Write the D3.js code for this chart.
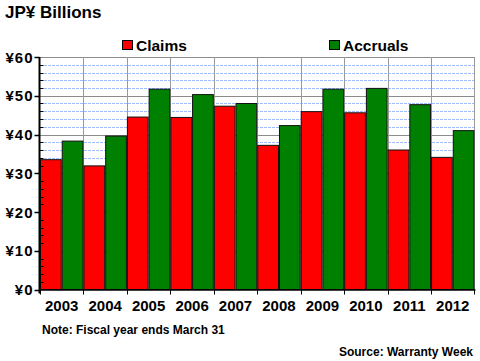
<!DOCTYPE html>
<html>
<head>
<meta charset="utf-8">
<script src="https://cdn.jsdelivr.net/npm/d3@7"></script>
<style>
    body { margin: 0; background: #fff; }
    text { font-family: Arial, "Liberation Sans", sans-serif; fill: #000; }
</style>
</head>
<body>
<div id="chart"></div>
<script>

var anios = ["2003", "2004", "2005", "2006", "2007", "2008", "2009", "2010", "2011", "2012"];
var claims = [33.5, 31.9, 44.5, 44.4, 47.3, 37.2, 45.9, 45.6, 36.0, 34.1];
var accruals = [38.3, 39.6, 51.7, 50.3, 48.0, 42.3, 51.7, 51.9, 47.7, 41.0];
var series = ["Claims", "Accruals"];
var colores = ["#ff0000", "#008000"];
var yTicks = [0, 10, 20, 30, 40, 50, 60];

dibujaGrafico();

function dibujaGrafico() {
    var width = 480, height = 361;
    var left = 40, right = 474.5, top = 57, bottom = 289.5;

    var svg = d3.select("#chart").append("svg")
        .attr("width", width)
        .attr("height", height);

    var x = d3.scaleBand().domain(anios).range([left, right]).padding(0);
    var xs = d3.scaleBand().domain(series).range([0, x.bandwidth()]).padding(0);
    var y = d3.scaleLinear().domain([0, 60]).range([bottom, top]);

    // grilla menor cada 2
    var minor = d3.range(2, 60, 2).filter(function (d) { return d % 10 != 0; });
    svg.append("g").selectAll("line").data(minor).enter().append("line")
        .attr("x1", left).attr("x2", right)
        .attr("y1", function (d) { return Math.round(y(d)) + 0.5; })
        .attr("y2", function (d) { return Math.round(y(d)) + 0.5; })
        .attr("stroke", "#9dbdff")
        .attr("stroke-dasharray", "3,1");

    // grilla mayor
    svg.append("g").selectAll("line").data(yTicks.slice(1)).enter().append("line")
        .attr("x1", left).attr("x2", right)
        .attr("y1", function (d) { return Math.round(y(d)) + 0.5; })
        .attr("y2", function (d) { return Math.round(y(d)) + 0.5; })
        .attr("stroke", "#8c8c8c");

    // grilla vertical
    svg.append("g").selectAll("line").data(anios.slice(1).concat(["end"])).enter().append("line")
        .attr("x1", function (d) { return d == "end" ? right : Math.round(x(d)) + 0.5; })
        .attr("x2", function (d) { return d == "end" ? right : Math.round(x(d)) + 0.5; })
        .attr("y1", top).attr("y2", bottom)
        .attr("stroke", "#9a9a9a");

    // barras
    var grupos = svg.append("g").selectAll("g").data(anios).enter().append("g")
        .attr("transform", function (d) { return "translate(" + x(d) + ",0)"; });

    grupos.selectAll("rect")
        .data(function (d, i) { return [{ s: "Claims", v: claims[i] }, { s: "Accruals", v: accruals[i] }]; })
        .enter().append("rect")
        .attr("x", function (d) { return xs(d.s) + 0.5; })
        .attr("width", xs.bandwidth() - 1)
        .attr("y", function (d) { return y(d.v); })
        .attr("height", function (d) { return y(0) - y(d.v); })
        .attr("fill", function (d, i) { return colores[i]; })
        .attr("stroke", "#111")
        .attr("stroke-width", 1);

    // eje y
    var yAxis = svg.append("g").attr("transform", "translate(" + (left - 0.5) + ",0)");
    yAxis.append("line").attr("x1", 0).attr("x2", 0).attr("y1", top).attr("y2", bottom + 4)
        .attr("stroke", "#000").attr("stroke-width", 2);
    yAxis.selectAll(".minor").data(minor).enter().append("line")
        .attr("x1", 0).attr("x2", 4)
        .attr("y1", function (d) { return Math.round(y(d)) + 0.5; })
        .attr("y2", function (d) { return Math.round(y(d)) + 0.5; })
        .attr("stroke", "#000");
    yAxis.selectAll(".major").data(yTicks).enter().append("line")
        .attr("x1", -5).attr("x2", 0)
        .attr("y1", function (d) { return Math.round(y(d)) + 0.5; })
        .attr("y2", function (d) { return Math.round(y(d)) + 0.5; })
        .attr("stroke", "#000").attr("stroke-width", 1.5);
    yAxis.selectAll("text").data(yTicks).enter().append("text")
        .attr("x", -6)
        .attr("y", function (d) { return y(d) + 5.5; })
        .attr("text-anchor", "end")
        .attr("font-size", "15px")
        .attr("font-weight", "bold")
        .attr("letter-spacing", "1px")
        .text(function (d) { return "¥" + d; });

    // eje x
    svg.append("line").attr("x1", left - 1).attr("x2", right + 1)
        .attr("y1", bottom + 0.5).attr("y2", bottom + 0.5)
        .attr("stroke", "#000").attr("stroke-width", 1.5);
    svg.append("g").selectAll("line").data(anios.concat(["end"])).enter().append("line")
        .attr("x1", function (d) { return d == "end" ? right : Math.round(x(d)) + 0.5; })
        .attr("x2", function (d) { return d == "end" ? right : Math.round(x(d)) + 0.5; })
        .attr("y1", bottom).attr("y2", bottom + 5)
        .attr("stroke", "#000");
    svg.append("g").selectAll("text").data(anios).enter().append("text")
        .attr("x", function (d) { return x(d) + x.bandwidth() / 2; })
        .attr("y", 311)
        .attr("text-anchor", "middle")
        .attr("font-size", "15px")
        .attr("font-weight", "bold")
        .text(function (d) { return d; });

    // titulo
    svg.append("text").attr("x", 5).attr("y", 18)
        .attr("font-size", "17px").attr("font-weight", "bold")
        .text("JP¥ Billions");

    // leyenda
    var leyX = [122, 329];
    var ley = svg.append("g").selectAll("g").data(series).enter().append("g")
        .attr("transform", function (d, i) { return "translate(" + leyX[i] + ",40)"; });
    ley.append("rect").attr("x", 0.5).attr("y", 0.5).attr("width", 10).attr("height", 9)
        .attr("fill", function (d, i) { return colores[i]; })
        .attr("stroke", "#000");
    ley.append("text").attr("x", 14).attr("y", 10.5)
        .attr("font-size", "15.5px").attr("font-weight", "bold")
        .text(function (d) { return d; });

    // notas
    svg.append("text").attr("x", 42).attr("y", 334)
        .attr("font-size", "12px").attr("font-weight", "bold")
        .text("Note: Fiscal year ends March 31");
    svg.append("text").attr("x", 473).attr("y", 356)
        .attr("text-anchor", "end")
        .attr("font-size", "12px").attr("font-weight", "bold")
        .text("Source: Warranty Week");
}
</script>
</body>
</html>
